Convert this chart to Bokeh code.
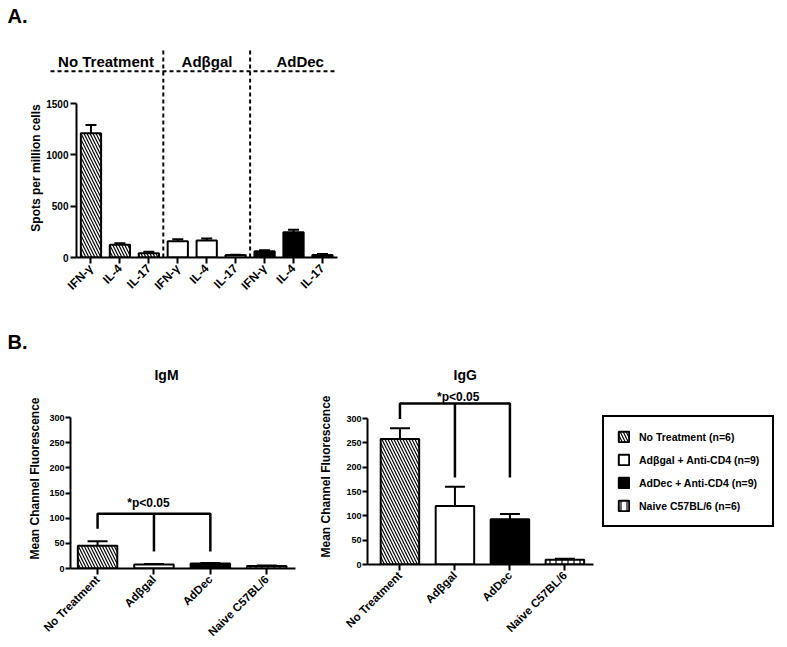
import math
from bokeh.plotting import figure
from bokeh.models import (Range1d, FixedTicker, Whisker, TeeHead, ColumnDataSource,
                          Span, Label, Legend, LegendItem)
from bokeh.layouts import column, row
from bokeh.embed import file_html
from bokeh.resources import INLINE

FONT = "Liberation Sans"

# ---------------- Data: panel A (ELISpot) ----------------
groups_a = ["No Treatment", "Adβgal", "AdDec"]
cytokines = ["IFN-γ", "IL-4", "IL-17"]
spots_mean = [1210, 125, 42, 158, 165, 25, 60, 245, 25]
spots_sem = [80, 15, 15, 20, 20, 3, 10, 25, 8]
a_yticks = [0, 500, 1000, 1500]
a_ylabel = "Spots per million cells"

# ---------------- Data: panel B (antibody MCF) ----------------
b_groups = ["No Treatment", "Adβgal", "AdDec", "Naive C57BL/6"]
legend_names = ["No Treatment", "Adβgal + Anti-CD4", "AdDec + Anti-CD4", "Naive C57BL/6"]
n_mice = [6, 9, 9, 6]
igm_mean = [45, 8, 10, 5]
igm_sem = [9, 1, 1, 1]
igg_mean = [258, 120, 93, 10]
igg_sem = [22, 40, 11, 2]
b_yticks = [0, 50, 100, 150, 200, 250, 300]
b_ylabel = "Mean Channel Fluorescence"
sig_text = "*p<0.05"
igm_bracket = [109, 79, 34, 34]   # top, leg ends (NT, Adβgal, AdDec)
igg_bracket = [331, 299, 179, 179]

# styles per group
STYLES = [
    dict(fill_color="white", hatch_pattern="left_diagonal_line"),
    dict(fill_color="white", hatch_pattern=" "),
    dict(fill_color="black", hatch_pattern=" "),
    dict(fill_color="white", hatch_pattern="vertical_line"),
]
BAR = dict(line_color="black", line_width=2, hatch_color="black", hatch_scale=6, hatch_weight=1.2)


def make_fig(page_left, page_top, width, height, FL, FR, FT, FB, xr, yr):
    p = figure(width=width, height=height, x_range=Range1d(*xr), y_range=Range1d(*yr),
               output_backend="svg", toolbar_location=None, title=None,
               min_border_left=FL - page_left, min_border_right=page_left + width - FR,
               min_border_top=FT - page_top, min_border_bottom=page_top + height - FB)
    p.outline_line_color = None
    p.xgrid.grid_line_color = None
    p.ygrid.grid_line_color = None
    p.background_fill_color = "white"
    p.border_fill_color = "white"
    for ax in (p.xaxis[0], p.yaxis[0]):
        ax.axis_line_width = 2
        ax.axis_line_color = "black"
        ax.major_tick_line_width = 2
        ax.major_tick_line_color = "black"
        ax.major_tick_in = 0
        ax.major_tick_out = 6
        ax.minor_tick_line_color = None
        ax.major_label_text_font = FONT
        ax.major_label_text_font_style = "bold"
        ax.major_label_text_color = "black"
        ax.axis_label_text_font = FONT
        ax.axis_label_text_font_style = "bold"
        ax.axis_label_text_color = "black"

    def X(px):
        return xr[0] + (px - FL) / (FR - FL) * (xr[1] - xr[0])

    def Y(py):
        return yr[0] + (FB - py) / (FB - FT) * (yr[1] - yr[0])
    return p, X, Y


def blank_fig(width, height, xr, yr):
    p = figure(width=width, height=height, x_range=Range1d(*xr), y_range=Range1d(*yr),
               output_backend="svg", toolbar_location=None, title=None,
               x_axis_location=None, y_axis_location=None,
               min_border_left=0, min_border_right=0, min_border_top=0, min_border_bottom=0)
    p.outline_line_color = None
    p.grid.visible = False
    p.background_fill_color = "white"
    p.border_fill_color = "white"
    return p


def text(p, x, y, s, size, align="center", baseline="middle"):
    p.add_layout(Label(x=x, y=y, text=s, text_font=FONT, text_font_style="bold",
                       text_font_size=size, text_color="black",
                       text_align=align, text_baseline=baseline))


# ================= Panel A =================
A_TOP = 78
FL, FR, FT, FB = 76, 337, A_TOP, 257
pA, XA, YA = make_fig(0, A_TOP, 380, 308 - A_TOP, FL, FR, FT, FB,
                      (0.5, 9.52), (0, 1500 * (FB - FT) / (257 - 103)))
nc = len(cytokines)
bounds_a = []
for gi, g in enumerate(groups_a):
    xs = [gi * nc + ci + 1 for ci in range(nc)]
    tops = spots_mean[gi * nc:(gi + 1) * nc]
    sems = spots_sem[gi * nc:(gi + 1) * nc]
    src = ColumnDataSource(dict(x=xs, top=tops, upper=[t + s for t, s in zip(tops, sems)]))
    pA.vbar(x="x", top="top", bottom=0, width=0.7, source=src, **BAR, **STYLES[gi])
    pA.add_layout(Whisker(source=src, base="x", lower="top", upper="upper",
                          line_width=2, line_color="black", lower_head=None,
                          upper_head=TeeHead(size=11, line_width=2, line_color="black")))
    if gi > 0:
        bounds_a.append(gi * nc + 0.5)
for b in bounds_a:
    pA.add_layout(Span(location=b, dimension="height", line_color="black",
                       line_width=2, line_dash="4 3"))

pA.yaxis.bounds = (0, 1500)
pA.yaxis.ticker = FixedTicker(ticks=a_yticks)
pA.yaxis.axis_label = a_ylabel
pA.yaxis.axis_label_text_font_size = "12px"
pA.yaxis.axis_label_standoff = 0
pA.yaxis.major_label_text_font_size = "10px"
pA.yaxis.major_label_standoff = 2
pA.xaxis.ticker = FixedTicker(ticks=list(range(1, len(spots_mean) + 1)))
pA.xaxis.major_label_overrides = {i + 1: cytokines[i % nc] for i in range(len(spots_mean))}
pA.xaxis.major_label_orientation = math.pi / 4
pA.xaxis.major_label_text_font_size = "12px"
pA.xaxis.major_label_standoff = 3

# header of panel A (page-pixel y coordinates)
hA = blank_fig(380, A_TOP, (XA(0), XA(380)), (A_TOP, 0))
header_x = [XA(105.5), XA(206.5), XA(299.7)]
for gi, g in enumerate(groups_a):
    text(hA, header_x[gi], 61, g, "15px")
hA.segment(x0=[XA(50)], y0=[70.7], x1=[XA(337)], y1=[70.7],
           line_color="black", line_width=2, line_dash="4 3")
hA.segment(x0=bounds_a, y0=[50] * len(bounds_a), x1=bounds_a, y1=[A_TOP] * len(bounds_a),
           line_color="black", line_width=2, line_dash="4 3")
text(hA, XA(7), 15.5, "A.", "20px", align="left")

# ================= Panel B =================
B_HEAD = 308
B_TOP = 388
B_BOT = 645


def panel_b(p, means, sems, bracket, cap, sig_xy):
    for gi, g in enumerate(b_groups):
        src = ColumnDataSource(dict(x=[gi + 1], top=[means[gi]], upper=[means[gi] + sems[gi]]))
        p.vbar(x="x", top="top", bottom=0, width=0.7, source=src, **BAR, **STYLES[gi])
        p.add_layout(Whisker(source=src, base="x", lower="top", upper="upper",
                             line_width=2, line_color="black", lower_head=None,
                             upper_head=TeeHead(size=cap, line_width=2, line_color="black")))
    top, l1, l2, l3 = bracket
    p.multi_line(xs=[[1, 1, 3, 3], [2, 2]], ys=[[l1, top, top, l3], [top, l2]],
                 line_color="black", line_width=2.5)
    text(p, sig_xy[0], sig_xy[1], sig_text, "12px")
    p.yaxis.bounds = (0, 300)
    p.yaxis.ticker = FixedTicker(ticks=b_yticks)
    p.yaxis.axis_label = b_ylabel
    p.yaxis.axis_label_text_font_size = "12px"
    p.yaxis.major_label_text_font_size = "9px"
    p.yaxis.major_label_standoff = 1
    p.yaxis.major_tick_out = 5
    p.xaxis.ticker = FixedTicker(ticks=list(range(1, len(b_groups) + 1)))
    p.xaxis.major_label_overrides = {i + 1: g for i, g in enumerate(b_groups)}
    p.xaxis.major_label_orientation = math.pi / 4
    p.xaxis.major_label_text_font_size = "11.5px"
    p.xaxis.major_label_standoff = 3


FL, FR, FT, FB = 70, 295, B_TOP, 568
pM, XM, YM = make_fig(0, B_TOP, 300, B_BOT - B_TOP, FL, FR, FT, FB,
                      (0.52, 4.51), (0, 300 * (FB - FT) / (568 - 417)))
panel_b(pM, igm_mean, igm_sem, igm_bracket, 20, (XM(148), YM(502.5)))
pM.yaxis.axis_label_standoff = 4

FL, FR, FT, FB = 367, 593, B_TOP, 564
pG, XG, YG = make_fig(300, B_TOP, 300, B_BOT - B_TOP, FL, FR, FT, FB,
                      (0.41, 4.52), (0, 300 * (FB - FT) / (564 - 418)))
panel_b(pG, igg_mean, igg_sem, igg_bracket, 20, (XG(457.7), YG(396)))
pG.yaxis.axis_label_standoff = 10

# header row of panel B (page-pixel coordinates)
hB = blank_fig(787, B_TOP - B_HEAD, (0, 787), (B_TOP, B_HEAD))
text(hB, 7, 341.5, "B.", "20px", align="left")
text(hB, 166, 374, "IgM", "14px")
text(hB, 464.7, 374, "IgG", "14px")

# legend panel: hidden copies of the IgG bars provide the legend swatches
pL = blank_fig(187, B_BOT - B_TOP, (0, 1), (0, 1))
items = []
for gi, g in enumerate(legend_names):
    r = pL.vbar(x=[gi + 1], top=[igg_mean[gi]], width=0.7, visible=False, **BAR, **STYLES[gi])
    items.append(LegendItem(label=f"{g} (n={n_mice[gi]})", renderers=[r]))
leg = Legend(items=items, location=(2, B_BOT - 527), margin=0, padding=13, spacing=10,
             glyph_width=13, glyph_height=13, label_standoff=9,
             label_text_font=FONT, label_text_font_style="bold",
             label_text_font_size="10.5px", label_text_color="black",
             border_line_color="black", border_line_width=2, border_line_alpha=1,
             background_fill_color="white", background_fill_alpha=1,
             inactive_fill_alpha=0, click_policy="none")
pL.add_layout(leg)

layout = column(row(hA), row(pA), row(hB),
                row(column(pM), column(pG), column(pL), spacing=0), spacing=0)
open("out.html", "w").write(file_html(layout, INLINE))
